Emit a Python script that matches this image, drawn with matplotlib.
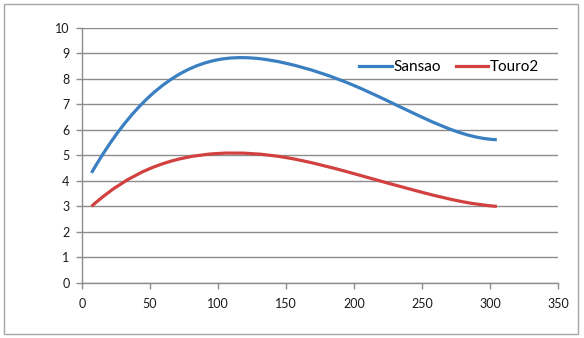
import numpy as np
import matplotlib.pyplot as plt
from matplotlib.path import Path
from matplotlib.patches import PathPatch, Rectangle
from matplotlib.lines import Line2D

plt.rcParams['font.family'] = ['Lato', 'DejaVu Sans']

x_vals = [7, 50, 100, 150, 200, 250, 280, 305]
sansao = [4.31, 7.32, 8.74, 8.60, 7.73, 6.49, 5.85, 5.61]
touro2 = [3.0, 4.48, 5.07, 4.91, 4.28, 3.55, 3.18, 3.0]
series_names = ['Sansao', 'Touro2']
colors = ['#3a7fc1', '#d2413f']

x_ticks = [0, 50, 100, 150, 200, 250, 300, 350]
y_ticks = list(range(0, 11))


def spline_path(xs, ys):
    # not-a-knot cubic spline, each piece written as a bezier segment
    x = np.asarray(xs, float)
    y = np.asarray(ys, float)
    n = len(x)
    h = np.diff(x)
    A = np.zeros((n, n))
    b = np.zeros(n)
    A[0, :3] = [h[1], -(h[0] + h[1]), h[0]]
    A[-1, -3:] = [h[-1], -(h[-2] + h[-1]), h[-2]]
    for i in range(1, n - 1):
        A[i, i - 1] = h[i - 1]
        A[i, i] = 2 * (h[i - 1] + h[i])
        A[i, i + 1] = h[i]
        b[i] = 6 * ((y[i + 1] - y[i]) / h[i] - (y[i] - y[i - 1]) / h[i - 1])
    M = np.linalg.solve(A, b)
    d = np.zeros(n)
    for i in range(n - 1):
        d[i] = (y[i + 1] - y[i]) / h[i] - h[i] * (2 * M[i] + M[i + 1]) / 6
    d[-1] = (y[-1] - y[-2]) / h[-1] + h[-1] * (M[-2] + 2 * M[-1]) / 6

    verts = [(x[0], y[0])]
    codes = [Path.MOVETO]
    for i in range(n - 1):
        t = h[i] / 3
        verts += [(x[i] + t, y[i] + d[i] * t),
                  (x[i + 1] - t, y[i + 1] - d[i + 1] * t),
                  (x[i + 1], y[i + 1])]
        codes += [Path.CURVE4] * 3
    return Path(verts, codes)


fig = plt.figure(figsize=(5.84, 3.38), dpi=100)
ax = fig.add_axes([0.1404, 0.1627, 0.8151, 0.7559])

for ys, c in zip([sansao, touro2], colors):
    ax.add_patch(PathPatch(spline_path(x_vals, ys), facecolor='none',
                           edgecolor=c, lw=2.3, capstyle='butt', zorder=3))

ax.set_xlim(0, 350)
ax.set_ylim(0, 10)
ax.set_xticks(x_ticks)
ax.set_yticks(y_ticks)
ax.grid(axis='y', color='#8c8c8c', lw=1.0)
ax.set_axisbelow(True)
for s in ['top', 'right']:
    ax.spines[s].set_visible(False)
for s in ['left', 'bottom']:
    ax.spines[s].set_color('#8c8c8c')
    ax.spines[s].set_linewidth(1.0)
ax.tick_params(colors='#8c8c8c', labelcolor='#1a1a1a', labelsize=9,
               length=4, width=1.0)
ax.tick_params(axis='y', pad=5)
ax.tick_params(axis='x', pad=7)

handles = [Line2D([], [], color=c, lw=2.3) for c in colors]
ax.legend(handles, series_names, loc='center left', bbox_to_anchor=(0.57, 0.845),
          frameon=False, ncol=2, fontsize=11, handlelength=2.1,
          handletextpad=0.1, columnspacing=1.0, borderaxespad=0)

fig.patches.append(Rectangle((4 / 584, 4 / 338), 574 / 584, 330 / 338,
                             transform=fig.transFigure, fill=False,
                             edgecolor='#a6a6a6', lw=1.0))

fig.savefig('out.png', dpi=100)
